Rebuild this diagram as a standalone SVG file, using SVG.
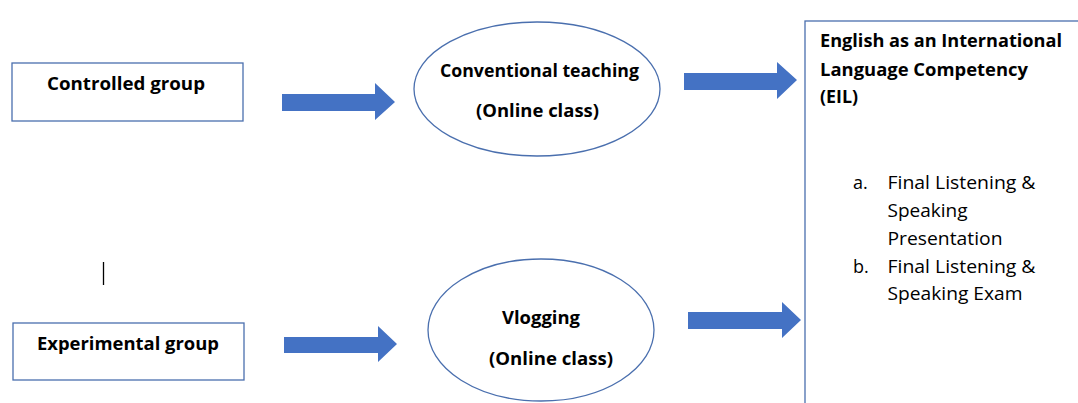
<svg xmlns="http://www.w3.org/2000/svg" width="1078" height="403" viewBox="0 0 1078 403">
<style>
.box{fill:#fff;stroke:#4a6fae;stroke-width:1.3}
.oval{fill:#fff;stroke:#4a6fae;stroke-width:1.3}
.arrow{fill:#4472c4}
.b{font-family:"Open Sans","Liberation Sans",sans-serif;font-weight:bold;font-size:17px;fill:#000}
.r{font-family:"Open Sans","Liberation Sans",sans-serif;font-size:18px;fill:#000}
</style>
<rect width="1078" height="403" fill="#fff"/>
<g id="controlled">
<rect class="box" x="12" y="63" width="231" height="58"/>
<text class="b" x="126" y="90" text-anchor="middle" textLength="158" lengthAdjust="spacingAndGlyphs">Controlled group</text>
</g>
<g id="experimental">
<rect class="box" x="13" y="323" width="231" height="57"/>
<text class="b" x="128" y="350" text-anchor="middle" textLength="182" lengthAdjust="spacingAndGlyphs">Experimental group</text>
</g>
<g id="conventional">
<ellipse class="oval" cx="537" cy="89" rx="123" ry="67"/>
<text class="b" x="539.5" y="77" text-anchor="middle" textLength="199" lengthAdjust="spacingAndGlyphs">Conventional teaching</text>
<text class="b" x="537.5" y="117" text-anchor="middle" textLength="123" lengthAdjust="spacingAndGlyphs">(Online class)</text>
</g>
<g id="vlogging">
<ellipse class="oval" cx="541" cy="330" rx="113" ry="71"/>
<text class="b" x="541" y="324" text-anchor="middle" textLength="78" lengthAdjust="spacingAndGlyphs">Vlogging</text>
<text class="b" x="551" y="365" text-anchor="middle" textLength="124" lengthAdjust="spacingAndGlyphs">(Online class)</text>
</g>
<g id="eil">
<rect class="box" x="805" y="21" width="300" height="420"/>
<text class="b" x="820" y="47" textLength="242" lengthAdjust="spacingAndGlyphs">English as an International</text>
<text class="b" x="820" y="75.5" textLength="208" lengthAdjust="spacingAndGlyphs">Language Competency</text>
<text class="b" x="820" y="103" textLength="38" lengthAdjust="spacingAndGlyphs">(EIL)</text>
<text class="r" x="853" y="188.5">a.</text>
<text class="r" x="887.5" y="188.5" textLength="148" lengthAdjust="spacingAndGlyphs">Final Listening &amp;</text>
<text class="r" x="887.5" y="216.5" textLength="80" lengthAdjust="spacingAndGlyphs">Speaking</text>
<text class="r" x="887.5" y="244.5" textLength="115" lengthAdjust="spacingAndGlyphs">Presentation</text>
<text class="r" x="853" y="272.5">b.</text>
<text class="r" x="887.5" y="272.5" textLength="148" lengthAdjust="spacingAndGlyphs">Final Listening &amp;</text>
<text class="r" x="887.5" y="300" textLength="135" lengthAdjust="spacingAndGlyphs">Speaking Exam</text>
</g>
<g id="connectors">
<polygon class="arrow" points="282,94 375,94 375,83 395,102 375,120 375,111 282,111"/>
<polygon class="arrow" points="684,73 777,73 777,62 797,80 777,99 777,90 684,90"/>
<polygon class="arrow" points="284,337 378,337 378,326 397,344 378,362 378,353 284,353"/>
<polygon class="arrow" points="688,312 782,312 782,302 801,320 782,338 782,329 688,329"/>
</g>
<line x1="103.5" y1="262" x2="103.5" y2="285" stroke="#000" stroke-width="1.3"/>
</svg>
